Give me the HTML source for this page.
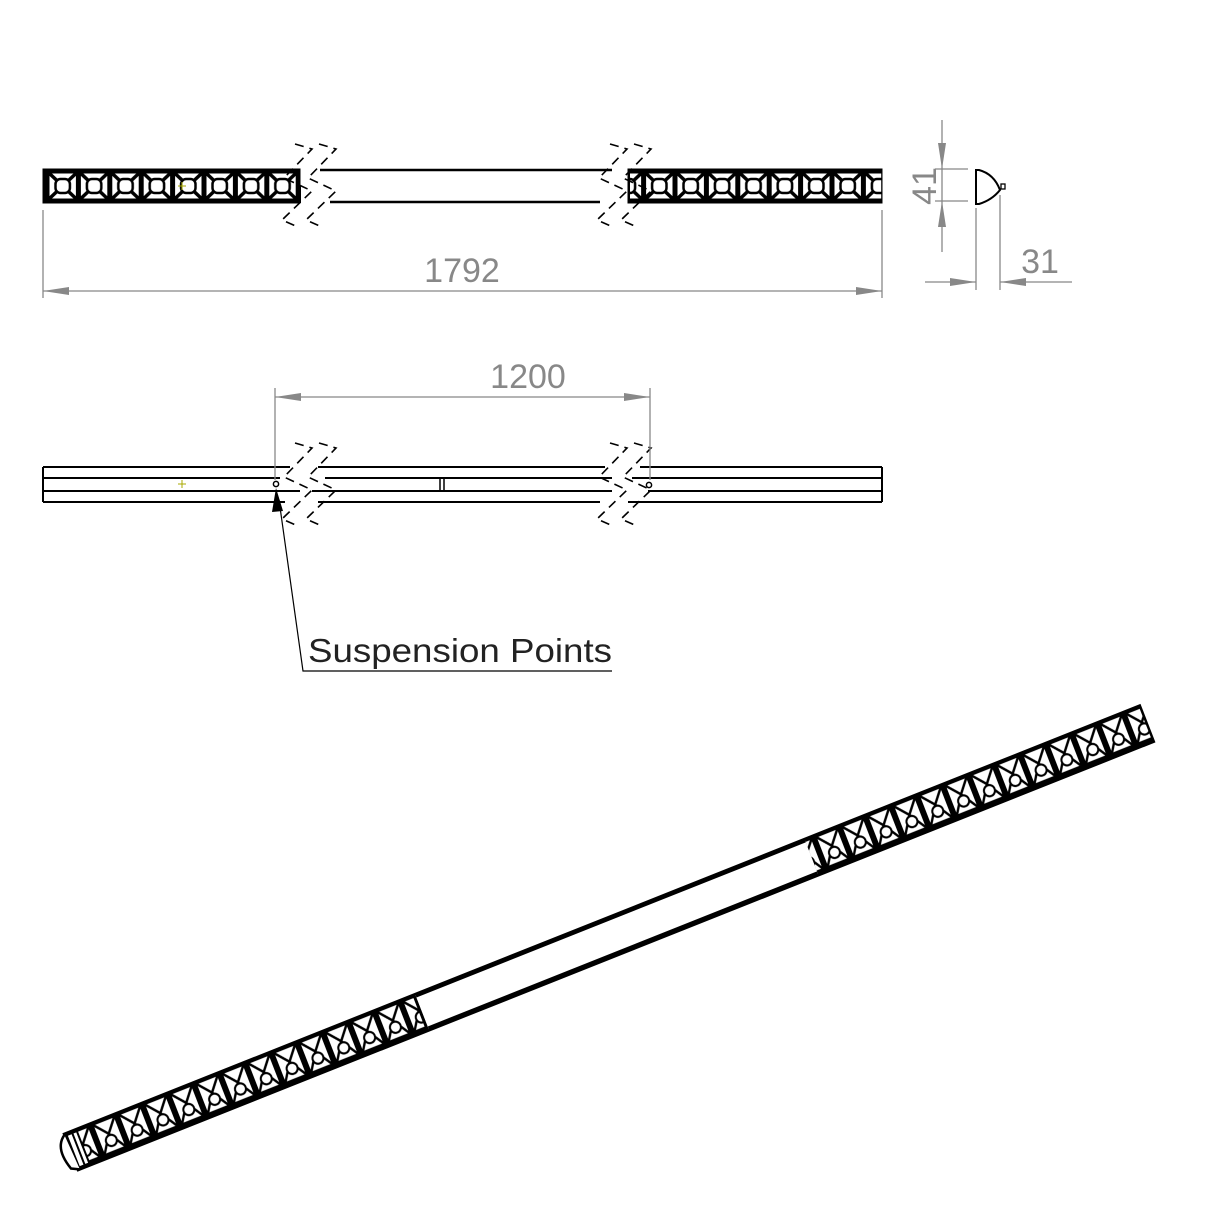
<!DOCTYPE html>
<html><head><meta charset="utf-8"><style>
html,body{margin:0;padding:0;background:#fff}
svg{display:block}
text{font-family:"Liberation Sans",sans-serif}
</style></head><body>
<svg width="1220" height="1220" viewBox="0 0 1220 1220" xmlns="http://www.w3.org/2000/svg">
<defs>
<pattern id="cellT" patternUnits="userSpaceOnUse" x="47" y="171" width="31.4" height="30">
<rect width="31.4" height="30" fill="#000"/>
<rect x="2.5" y="2.5" width="26.4" height="25" fill="#fff"/>
<path d="M2.5 2.5L28.9 27.5M28.9 2.5L2.5 27.5" stroke="#000" stroke-width="3.5"/>
<rect x="8.5" y="8" width="14.4" height="14" rx="5" fill="#fff" stroke="#000" stroke-width="2.5"/>
</pattern>
<pattern id="cellI" patternUnits="userSpaceOnUse" x="0" y="0" width="27.8" height="38">
<rect width="27.8" height="38" fill="#000"/>
<rect x="3" y="3" width="21.8" height="30" fill="#fff"/>
<path d="M3 3L14 16L24.8 3M14 16L3 33M14 16L24.8 33" stroke="#000" stroke-width="2.4" fill="none"/>
<circle cx="14" cy="23" r="5.5" fill="#fff" stroke="#000" stroke-width="2"/>
</pattern>
<marker id="ar" markerWidth="26" markerHeight="8" refX="26" refY="4" orient="auto" markerUnits="userSpaceOnUse">
<path d="M0 0L26 4L0 8z" fill="#888"/>
</marker>
</defs>

<!-- TOP VIEW -->
<g stroke="#000" fill="none">
<rect x="43" y="169" width="257" height="34" fill="#000"/>
<rect x="47" y="171" width="251.2" height="30" fill="url(#cellT)" stroke="none"/>
<rect x="628" y="169" width="254" height="34" fill="#000"/>
<rect x="630" y="171" width="251.2" height="30" fill="url(#cellT)" stroke="none"/>
<line x1="300" y1="185" x2="300" y2="203" stroke-width="2"/>
<path d="M320 170H612M330 202H600" stroke-width="2.5"/>
<g stroke-dasharray="9,6" stroke-width="1.6">
<polyline points="295,144 312,149 284,178 312,191 282,220 298,227"/>
<polyline points="319,144 336,149 308,178 336,191 306,220 322,227"/>
<polyline points="610,144 627,149 599,178 627,191 597,220 613,227"/>
<polyline points="634,144 651,149 623,178 651,191 621,220 637,227"/>
</g>
</g>
<path d="M178 186h8M182 182v8" stroke="#aa0" stroke-width="1"/>

<!-- dims top -->
<g stroke="#888" stroke-width="1.3" fill="none">
<line x1="43" y1="210" x2="43" y2="298"/>
<line x1="882" y1="210" x2="882" y2="298"/>
<line x1="462" y1="291" x2="43" y2="291" marker-end="url(#ar)"/>
<line x1="462" y1="291" x2="882" y2="291" marker-end="url(#ar)"/>
<line x1="935" y1="169" x2="968" y2="169"/>
<line x1="935" y1="201" x2="968" y2="201"/>
<line x1="942" y1="120" x2="942" y2="169" marker-end="url(#ar)"/>
<line x1="942" y1="252" x2="942" y2="201" marker-end="url(#ar)"/>
<line x1="942" y1="169" x2="942" y2="201"/>
<line x1="976" y1="208" x2="976" y2="290"/>
<line x1="1000" y1="195" x2="1000" y2="290"/>
<line x1="925" y1="282" x2="976" y2="282" marker-end="url(#ar)"/>
<line x1="1072" y1="282" x2="1000" y2="282" marker-end="url(#ar)"/>
</g>
<text x="462" y="282" font-size="34" fill="#888" text-anchor="middle">1792</text>
<text x="0" y="0" font-size="34" fill="#888" text-anchor="middle" transform="translate(936,186) rotate(-90)">41</text>
<text x="1040" y="273" font-size="34" fill="#888" text-anchor="middle">31</text>
<path d="M976 170V204H979Q992 200 1000 190Q994 174 979 170Z" fill="none" stroke="#000" stroke-width="2"/>
<rect x="1001" y="184" width="4" height="5" fill="none" stroke="#000" stroke-width="1.3"/>

<!-- MIDDLE VIEW -->
<g stroke="#000" fill="none" stroke-width="2">
<path d="M43 467H290M43 502H285M43 467V502M43 478H280M43 491H300"/>
<path d="M318 467H605M318 502H600M325 478H612M312 491H612" />
<path d="M640 467H882M628 502H882M882 467V502M632 478H882M648 491H882"/>
<path d="M440 478V491M444 478V491" stroke-width="1.5"/>
<g stroke-dasharray="9,6" stroke-width="1.6">
<polyline points="295,443 312,448 284,477 312,490 282,519 298,526"/>
<polyline points="319,443 336,448 308,477 336,490 306,519 322,526"/>
<polyline points="610,443 627,448 599,477 627,490 597,519 613,526"/>
<polyline points="634,443 651,448 623,477 651,490 621,519 637,526"/>
</g>
<circle cx="276" cy="484" r="2.6" stroke-width="1.5"/>
<circle cx="649" cy="485" r="2.6" stroke-width="1.5"/>
</g>
<path d="M178 484h8M182 480v8" stroke="#aa0" stroke-width="1"/>
<g stroke="#888" stroke-width="1.3" fill="none">
<line x1="275" y1="388" x2="275" y2="480"/>
<line x1="650" y1="388" x2="650" y2="480"/>
<line x1="462" y1="397" x2="275" y2="397" marker-end="url(#ar)"/>
<line x1="462" y1="397" x2="650" y2="397" marker-end="url(#ar)"/>
</g>
<text x="528" y="388" font-size="34" fill="#888" text-anchor="middle">1200</text>
<path d="M612 671H303L279 500" stroke="#000" stroke-width="1.2" fill="none"/>
<path d="M276 488L272 512L283 511Z" fill="#000"/>
<text x="308" y="662" font-size="33" fill="#222" textLength="304" lengthAdjust="spacingAndGlyphs">Suspension Points</text>

<!-- ISO VIEW -->
<g transform="matrix(0.929,-0.370,0.37,0.95,64,1134)">
<rect x="0" y="0" width="378" height="38" fill="#000"/>
<rect x="14" y="0" width="361" height="38" fill="url(#cellI)"/>
<rect x="797" y="0" width="361" height="38" fill="#000"/>
<rect x="797" y="0" width="361" height="38" fill="url(#cellI)"/>
<rect x="378" y="0" width="419" height="38" fill="#fff"/>
<path d="M378 1.5H797M378 36H797" stroke="#000" stroke-width="4"/>
<path d="M0 0V38H1158V0Z" fill="none" stroke="#000" stroke-width="2.5"/>
<rect x="3" y="3" width="9" height="32" fill="#fff"/>
<line x1="8" y1="0" x2="8" y2="38" stroke="#000" stroke-width="2"/>
<path d="M0 1Q-14 10 -6 34L2 38" fill="#fff" stroke="#000" stroke-width="2.5"/>
</g>
</svg>
</body></html>
